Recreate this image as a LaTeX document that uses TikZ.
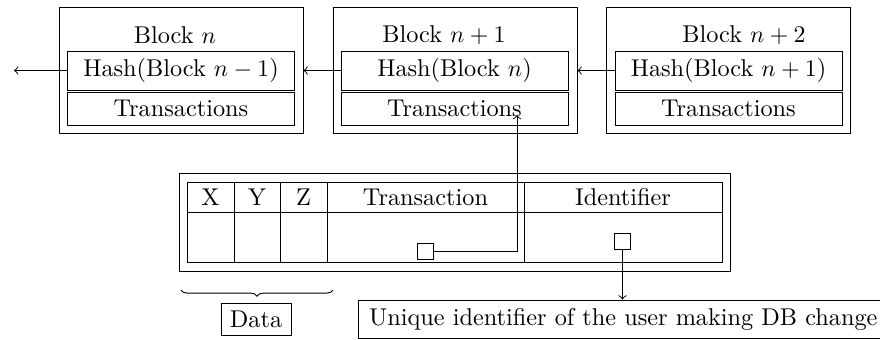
\documentclass[tikz,border=0pt]{standalone}
\usetikzlibrary{decorations.pathreplacing}
\newcommand\uu{0.42pt}
\tikzset{
  box/.style={draw, rectangle, inner sep=0pt, minimum width=#1*\uu},
  outerbox/.style={box=244, minimum height=126*\uu},
  hashbox/.style={box=227, minimum height=39*\uu},
  transbox/.style={box=227, minimum height=33*\uu},
  hcell/.style={box=#1, minimum height=30*\uu},
  bcell/.style={box=#1, minimum height=50*\uu},
  sq/.style={draw, rectangle, inner sep=0pt, minimum size=16*\uu},
  arr/.style={->},
  every node/.style={font=\fontsize{10.2pt}{12.2pt}\selectfont},
}
\begin{document}
\begin{tikzpicture}[x=0.42pt,y=-0.42pt]
\useasboundingbox (0,0) rectangle (880,339);
% blocks
\node[outerbox] (b0) at (181,70) {};
\node[outerbox] (b1) at (455,70) {};
\node[outerbox] (b2) at (728.5,70) {};
\node (t0) at (175,35) {Block $n$};
\node (t1) at (444,35) {Block $n+1$};
\node (t2) at (744,35) {Block $n+2$};
\node[hashbox] (h0) at (181,70.5) {Hash(Block $n-1$)};
\node[hashbox] (h1) at (454.5,70.5) {Hash(Block $n$)};
\node[hashbox] (h2) at (728.5,70.5) {Hash(Block $n+1$)};
\node[transbox] (r0) at (181,108.5) {Transactions};
\node[transbox] (r1) at (454.5,108.5) {Transactions};
\node[transbox] (r2) at (728.5,108.5) {Transactions};
\coordinate (lend) at (14,70.5);
\draw[arr] (h0.west) -- (lend);
\draw[arr] (h1.west) -- (b0.east |- h1.west);
\draw[arr] (h2.west) -- (b1.east |- h2.west);
% table
\node[box=551, minimum height=98*\uu] (tab) at (454.5,222) {};
\node[hcell=47] (cx) at (210.5,197) {X};
\node[hcell=46] (cy) at (257,197) {Y};
\node[hcell=47] (cz) at (303.5,197) {Z};
\node[hcell=197] (ct) at (425.5,197) {Transaction};
\node[hcell=198] (ci) at (623,197) {Identifier};
\node[bcell=47] (dx) at (210.5,237) {};
\node[bcell=46] (dy) at (257,237) {};
\node[bcell=47] (dz) at (303.5,237) {};
\node[bcell=197] (dt) at (425.5,237) {};
\node[bcell=198] (di) at (623,237) {};
\node[sq] (s1) at (425,251.5) {};
\node[sq] (s2) at (622.5,241) {};
\coordinate (tip) at (517,115);
\draw[arr] (s1.east) -| (tip);
% brace and labels
\coordinate (bl) at (181,290);
\coordinate (br) at (333,290);
\draw[decorate, decoration={brace, mirror, amplitude=2.6pt}] (bl) -- (br);
\node[box=70, minimum height=32*\uu] (data) at (256,319) {Data};
\node[draw, rectangle, anchor=west, inner xsep=4.5pt, minimum height=36*\uu] (uniq) at (358,319) {Unique identifier of the user making DB change};
\draw[arr] (s2.south) -- (s2.south |- uniq.north);
\end{tikzpicture}
\end{document}
